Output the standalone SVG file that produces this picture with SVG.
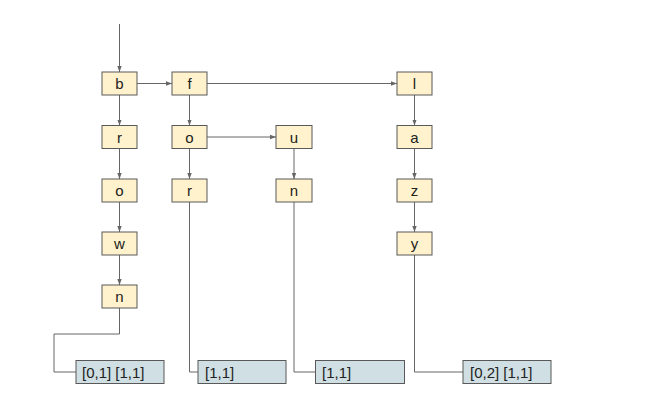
<svg xmlns="http://www.w3.org/2000/svg" width="660" height="414" viewBox="0 0 660 414">
<style>
.n rect{fill:#fff2cc;stroke:#595959;stroke-width:1}
.n text{font-family:"Liberation Sans",Arial,sans-serif;font-size:15px;fill:#222;text-anchor:middle}
.leaf rect{fill:#d0dfe3;stroke:#595959;stroke-width:1}
.leaf text{font-family:"Liberation Sans",Arial,sans-serif;font-size:15px;fill:#222}
.c path{fill:none;stroke:#666;stroke-width:1}
.c .a{marker-end:url(#ah)}
</style>
<defs>
<marker id="ah" viewBox="0 0 6 6" refX="6" refY="3" markerWidth="6" markerHeight="6" markerUnits="userSpaceOnUse" orient="auto">
<path d="M0,0.8 L6,3 L0,5.2 z" fill="#666"/>
</marker>
</defs>
<rect width="660" height="414" fill="#fff"/>
<g class="c" id="connectors">
<path class="a" d="M119.5,24 V72"/>
<path class="a" d="M137,83.5 H172"/>
<path class="a" d="M207,83.5 H397"/>
<path class="a" d="M207,137 H276"/>
<path class="a" d="M119.5,95 V125.5"/>
<path class="a" d="M119.5,148.5 V179"/>
<path class="a" d="M119.5,202 V232"/>
<path class="a" d="M119.5,255 V285"/>
<path class="a" d="M189.5,95 V125.5"/>
<path class="a" d="M189.5,148.5 V179"/>
<path class="a" d="M294,148.5 V179"/>
<path class="a" d="M414.5,95 V125.5"/>
<path class="a" d="M414.5,148.5 V179"/>
<path class="a" d="M414.5,202 V232"/>
<path d="M119.5,308 V334 H54 V372 H76"/>
<path d="M189.5,202 V372 H198"/>
<path d="M294,202 V372 H315.5"/>
<path d="M414.5,255 V372 H463"/>
</g>
<g class="n" id="n-b"><rect x="102" y="72" width="35" height="23"/><text x="119.5" y="89">b</text></g>
<g class="n" id="n-r1"><rect x="102" y="125.5" width="35" height="23"/><text x="119.5" y="142.5">r</text></g>
<g class="n" id="n-o1"><rect x="102" y="179" width="35" height="23"/><text x="119.5" y="196">o</text></g>
<g class="n" id="n-w"><rect x="102" y="232" width="35" height="23"/><text x="119.5" y="249">w</text></g>
<g class="n" id="n-n1"><rect x="102" y="285" width="35" height="23"/><text x="119.5" y="302">n</text></g>
<g class="n" id="n-f"><rect x="172" y="72" width="35" height="23"/><text x="189.5" y="89">f</text></g>
<g class="n" id="n-o2"><rect x="172" y="125.5" width="35" height="23"/><text x="189.5" y="142.5">o</text></g>
<g class="n" id="n-r2"><rect x="172" y="179" width="35" height="23"/><text x="189.5" y="196">r</text></g>
<g class="n" id="n-u"><rect x="276" y="125.5" width="36" height="23"/><text x="294" y="142.5">u</text></g>
<g class="n" id="n-n2"><rect x="276" y="179" width="36" height="23"/><text x="294" y="196">n</text></g>
<g class="n" id="n-l"><rect x="397" y="72" width="35" height="23"/><text x="414.5" y="89">l</text></g>
<g class="n" id="n-a"><rect x="397" y="125.5" width="35" height="23"/><text x="414.5" y="142.5">a</text></g>
<g class="n" id="n-z"><rect x="397" y="179" width="35" height="23"/><text x="414.5" y="196">z</text></g>
<g class="n" id="n-y"><rect x="397" y="232" width="35" height="23"/><text x="414.5" y="249">y</text></g>
<g class="leaf" id="leaf-brown"><rect x="76" y="360.5" width="88" height="23"/><text x="82" y="378">[0,1] [1,1]</text></g>
<g class="leaf" id="leaf-for"><rect x="198" y="360.5" width="88" height="23"/><text x="205" y="378">[1,1]</text></g>
<g class="leaf" id="leaf-fun"><rect x="315.5" y="360.5" width="89" height="23"/><text x="322" y="378">[1,1]</text></g>
<g class="leaf" id="leaf-lazy"><rect x="463" y="360.5" width="88" height="23"/><text x="470" y="378">[0,2] [1,1]</text></g>
</svg>
